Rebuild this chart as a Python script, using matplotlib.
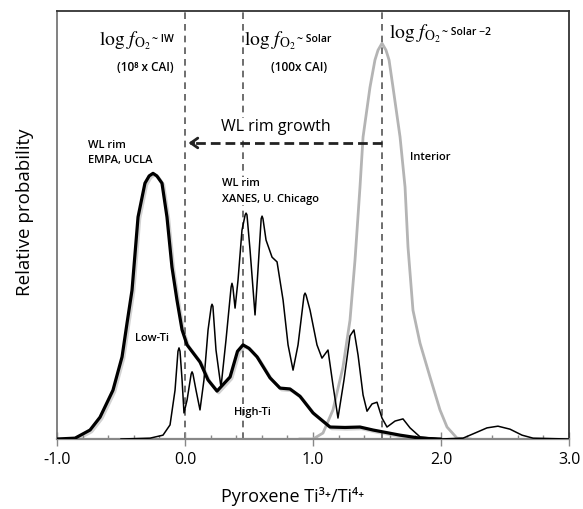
import matplotlib
matplotlib.use("Agg")
import matplotlib.pyplot as plt
import matplotlib.patheffects as pe

# Values: x = pyroxene Ti3+/Ti4+, y = relative probability
empa_x = [-1.0, -0.859, -0.742, -0.664, -0.563, -0.492, -0.453, -0.414, -0.367,
          -0.313, -0.28, -0.25, -0.22, -0.18, -0.141, -0.102, -0.063, -0.023,
          0.016, 0.117, 0.18, 0.25, 0.352, 0.41, 0.453, 0.50, 0.563, 0.664,
          0.742, 0.82, 0.898, 1.0, 1.133, 1.25, 1.367, 1.469, 1.68, 1.836, 1.992]
empa_y = [0.0, 0.002, 0.021, 0.051, 0.114, 0.192, 0.271, 0.348, 0.519,
          0.598, 0.615, 0.621, 0.615, 0.598, 0.519, 0.402, 0.325, 0.255,
          0.220, 0.180, 0.138, 0.112, 0.145, 0.205, 0.220, 0.212, 0.192, 0.143,
          0.119, 0.117, 0.100, 0.061, 0.028, 0.027, 0.028, 0.021, 0.009, 0.002, 0.0]

xanes_x = [-0.5, -0.273, -0.172, -0.117, -0.078, -0.055, -0.047, -0.039, -0.023,
           -0.008, 0.016, 0.048, 0.055, 0.062, 0.086, 0.117, 0.148, 0.180, 0.205,
           0.211, 0.218, 0.242, 0.281, 0.320, 0.360, 0.367, 0.374, 0.391, 0.414,
           0.445, 0.470, 0.477, 0.484, 0.508, 0.547, 0.570, 0.595, 0.602, 0.609,
           0.633, 0.680, 0.719, 0.766, 0.805, 0.844, 0.883, 0.93, 0.938, 0.946,
           0.977, 1.031, 1.070, 1.117, 1.156, 1.195, 1.242, 1.289, 1.320, 1.352,
           1.391, 1.422, 1.461, 1.5, 1.539, 1.578, 1.641, 1.703, 1.758, 1.836,
           1.992, 2.172, 2.266, 2.359, 2.445, 2.539, 2.633, 2.719, 3.0]
xanes_y = [0.0, 0.002, 0.009, 0.033, 0.114, 0.205, 0.213, 0.205, 0.138,
           0.061, 0.091, 0.152, 0.157, 0.152, 0.114, 0.068, 0.138, 0.255, 0.310,
           0.315, 0.310, 0.208, 0.121, 0.231, 0.355, 0.364, 0.355, 0.306, 0.371,
           0.488, 0.524, 0.528, 0.524, 0.442, 0.290, 0.395, 0.515, 0.521, 0.515,
           0.465, 0.425, 0.414, 0.325, 0.220, 0.161, 0.220, 0.336, 0.341, 0.336,
           0.301, 0.220, 0.189, 0.208, 0.126, 0.049, 0.138, 0.241, 0.255, 0.196,
           0.103, 0.065, 0.082, 0.086, 0.049, 0.028, 0.042, 0.047, 0.026, 0.005,
           0.0, 0.002, 0.014, 0.026, 0.030, 0.023, 0.009, 0.002, 0.0]

interior_x = [0.898, 1.0, 1.078, 1.156, 1.234, 1.289, 1.328, 1.367, 1.391, 1.445,
              1.484, 1.508, 1.539, 1.570, 1.594, 1.625, 1.680, 1.719, 1.742,
              1.781, 1.836, 1.914, 1.992, 2.047, 2.125, 2.227]
interior_y = [0.0, 0.0, 0.014, 0.068, 0.168, 0.278, 0.418, 0.589, 0.706, 0.822,
              0.886, 0.909, 0.925, 0.909, 0.886, 0.822, 0.706, 0.589, 0.449,
              0.301, 0.224, 0.145, 0.068, 0.028, 0.002, 0.0]

# log fO2 reference lines and their labels
fo2_lines = [0.0, 0.45, 1.54]
fo2_labels = ["~ IW", "~ Solar", "~ Solar \u22122"]
fo2_notes = ["(10\u2078 x CAI)", "(100x CAI)", ""]

plt.rcParams["font.family"] = ["Open Sans", "DejaVu Sans"]
plt.rcParams["mathtext.fontset"] = "stix"

fig = plt.figure(figsize=(5.83, 5.09), dpi=100)
ax = fig.add_axes([0.0978, 0.1375, 0.8782, 0.8405])

shadow = [pe.SimpleLineShadow(offset=(1.2, -1.2), shadow_color="gray", alpha=0.35),
          pe.Normal()]
ax.plot(interior_x, interior_y, color="#b4b4b4", lw=2.0, zorder=2)
ax.plot(xanes_x, xanes_y, color="black", lw=1.1, zorder=3)
ax.plot(empa_x, empa_y, color="black", lw=2.3, zorder=4, path_effects=shadow)

for xv in fo2_lines:
    ax.axvline(xv, color="#555555", lw=1.2, dashes=(4, 3), zorder=1)

# WL rim growth arrow: from interior line back to IW line
y_arrow = 0.692
ax.plot([fo2_lines[2], fo2_lines[0] + 0.04], [y_arrow, y_arrow],
        color="#222222", lw=2.0, dashes=(3.5, 1.8), zorder=5)
ax.annotate("", xy=(fo2_lines[0] + 0.005, y_arrow), xytext=(fo2_lines[0] + 0.09, y_arrow),
            arrowprops=dict(arrowstyle="->,head_length=0.5,head_width=0.35",
                            color="#222222", lw=2.0), zorder=5)
ax.text(0.711, 0.729, "WL rim growth", fontsize=11.5, ha="center", va="center",
        zorder=6, bbox=dict(facecolor="white", edgecolor="none", pad=1))

# log fO2 headers
head_x = [-0.266, 0.867, 2.0]
head_y = [0.921, 0.921, 0.937]
for hx, hy, lab in zip(head_x, head_y, fo2_labels):
    ax.text(hx, hy, r"$\log\, f_{\mathrm{O}_2}$", fontsize=14, ha="right",
            va="baseline", zorder=6,
            bbox=dict(facecolor="white", edgecolor="none", pad=0.5))
    ax.text(hx + 0.005, hy + 0.008, lab, fontsize=7.5, ha="left", va="baseline",
            fontweight="semibold", zorder=6)
for nx, note in zip([-0.3125, 0.891], fo2_notes[:2]):
    ax.text(nx, 0.869, note, fontsize=8.5, ha="center", va="center", zorder=6,
            fontweight="semibold",
            bbox=dict(facecolor="white", edgecolor="none", pad=0.5))

# curve labels
lab_kw = dict(fontsize=8, fontweight="semibold", zorder=6)
ax.text(-0.758, 0.668, "WL rim\nEMPA, UCLA", ha="left", va="center",
        linespacing=1.55, **lab_kw)
ax.text(0.289, 0.579, "WL rim\nXANES, U. Chicago", ha="left", va="center",
        linespacing=1.55, bbox=dict(facecolor="white", edgecolor="none", pad=0.5),
        **lab_kw)
ax.text(-0.258, 0.236, "Low-Ti", ha="center", va="center", **lab_kw)
ax.text(0.523, 0.061, "High-Ti", ha="center", va="center", **lab_kw)
ax.text(1.758, 0.657, "Interior", ha="left", va="center", **lab_kw)

ax.set_xlim(-1.0, 3.0)
ax.set_ylim(0, 1.0)
ax.set_xticks([-1.0, 0.0, 1.0, 2.0, 3.0])
ax.set_xticklabels(["-1.0", "0.0", "1.0", "2.0", "3.0"])
ax.set_xticks([v / 10 for v in range(-10, 31, 2)], minor=True)
ax.set_yticks([])
ax.tick_params(axis="x", which="major", direction="inout", length=10, width=1,
               color="#888888", labelsize=11.5, pad=4)
ax.tick_params(axis="x", which="minor", direction="in", length=3, width=1,
               color="#888888")

for side in ["top", "right"]:
    ax.spines[side].set_color("#333333")
    ax.spines[side].set_linewidth(1.3)
ax.spines["left"].set_color("#777777")
ax.spines["left"].set_linewidth(1.3)
ax.spines["bottom"].set_color("#888888")
ax.spines["bottom"].set_linewidth(1.6)

ax.set_xlabel("Pyroxene Ti\u00b3\u207a/Ti\u2074\u207a", fontsize=13)
ax.xaxis.set_label_coords(0.46, -0.112)
ax.set_ylabel("Relative probability", fontsize=13.5)
ax.yaxis.set_label_coords(-0.045, 0.53)

fig.savefig("out.png", dpi=100)
